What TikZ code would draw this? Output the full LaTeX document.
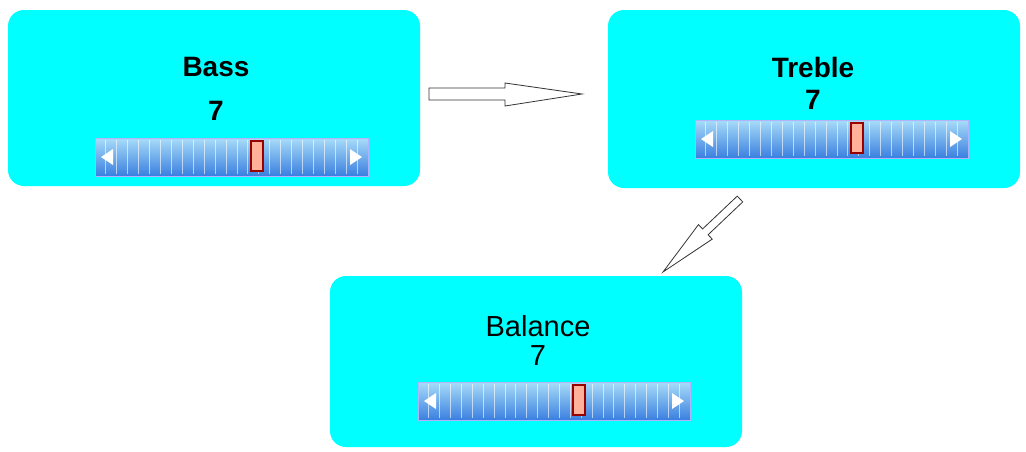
\documentclass[tikz,border=0pt]{standalone}
\usepackage{fontspec}
\setmainfont{Liberation Sans}
\usetikzlibrary{calc}
\definecolor{panel}{HTML}{00FFFF}
\definecolor{sltop}{HTML}{A8DCF8}
\definecolor{slbot}{HTML}{3A7FE0}
\tikzset{
  panelbox/.style={fill=panel,rounded corners=16pt,draw=none},
  lbl/.style={font=\fontsize{29}{34}\selectfont},
  blbl/.style={font=\bfseries\fontsize{28}{34}\selectfont},
  blk/.style={draw=black!80,fill=white,line width=0.8pt,line join=miter},
}
\newcommand{\myslider}[5]{% x1 y1 x2 y2 thumbx
  \shade[top color=sltop,bottom color=slbot] (#1,#2) rectangle (#3,#4);
  \draw[white!70!blue,line width=0.8pt] (#1,#2) rectangle (#3,#4);
  \foreach \k in {1,...,24}{\draw[white,opacity=0.6,line width=0.9pt] ({#1+\k*(#3-#1)/25},{#2+2}) -- ({#1+\k*(#3-#1)/25},{#4-2});}
  \fill[white] ({#1+6},{(#2+#4)/2}) -- ({#1+18},{(#2+#4)/2-8}) -- ({#1+18},{(#2+#4)/2+8}) -- cycle;
  \fill[white] ({#3-6},{(#2+#4)/2}) -- ({#3-18},{(#2+#4)/2-8}) -- ({#3-18},{(#2+#4)/2+8}) -- cycle;
  \draw[fill=orange!50!red!40!white,draw=red!60!black,line width=1.2pt] ({#5-6},{#2+3}) rectangle ({#5+6},{#4-5});
}
\begin{document}
\begin{tikzpicture}[x=1pt,y=-1pt]
\useasboundingbox (0,0) rectangle (1026,451);
\fill[panelbox] (8,10) rectangle (420,186);
\fill[panelbox] (608,10) rectangle (1020,188);
\fill[panelbox] (330,276) rectangle (742,447);
\node[blbl] (bass) at (216,67) {Bass};
\node[blbl] (bassv) at (216,111) {7};
\node[blbl] (treble) at (813,67) {Treble};
\node[blbl] (treblev) at (813,100) {7};
\node[lbl] (balance) at (538,326) {Balance};
\node[lbl] (balancev) at (538,356) {7};
\myslider{95}{138}{368}{176}{257}
\myslider{695}{120}{968}{158}{857}
\myslider{418}{382}{690}{420}{579}
% horizontal block arrow
\draw[blk] (429,88) -- (505,88) -- (505,83) -- (582,94) -- (505,106) -- (505,100) -- (429,100) -- cycle;
% diagonal block arrow
\coordinate (t) at (740,199);
\coordinate (p) at (663,272);
\coordinate (m) at ($(t)!0.45!(p)$);
\draw[blk] ($(t)!4pt!90:(p)$) -- ($(m)!4pt!-90:(t)$) -- ($(m)!10pt!-90:(t)$) -- (p)
  -- ($(m)!10pt!90:(t)$) -- ($(m)!4pt!90:(t)$) -- ($(t)!4pt!-90:(p)$) -- cycle;
\end{tikzpicture}
\end{document}
